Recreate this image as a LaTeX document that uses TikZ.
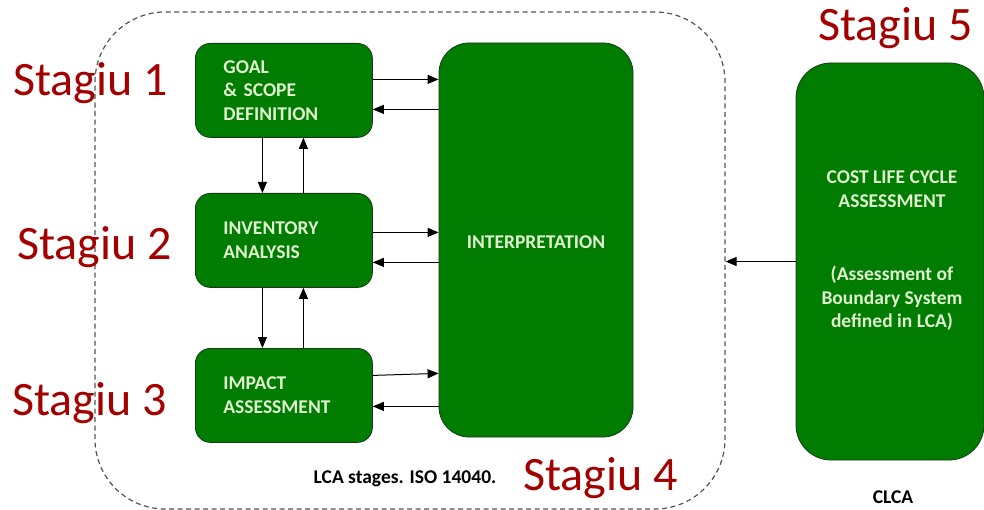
\documentclass[tikz,border=0pt]{standalone}
\usepackage{fontspec}
\setmainfont{Carlito}
\usetikzlibrary{arrows.meta,calc}
\definecolor{boxgreen}{RGB}{0,124,0}
\definecolor{boxedge}{RGB}{20,60,20}
\definecolor{boxtext}{RGB}{224,242,208}
\definecolor{stagered}{RGB}{163,0,0}
\definecolor{dashgray}{RGB}{85,85,85}
\tikzset{
  gbox/.style={draw=boxedge, line width=0.8pt, fill=boxgreen, text=boxtext,
    font=\fontsize{19.5}{23.5}\selectfont\bfseries},
  stagebox/.style={gbox, rounded corners=15pt, minimum height=94pt,
    inner xsep=28pt, text width=121pt, align=left, anchor=north west},
  arr/.style={draw=black, line width=1pt, -{Triangle[length=11pt,width=9pt]}},
  stagelabel/.style={text=stagered, font=\fontsize{48}{56}\selectfont, anchor=base west, inner sep=0pt},
  caption/.style={text=black, font=\fontsize{19.5}{23.5}\selectfont\bfseries, inner sep=0pt}
}
\begin{document}
\begin{tikzpicture}[x=1pt,y=-1pt]
\useasboundingbox (0,0) rectangle (984,510);
% boundary
\node[draw=dashgray, line width=1.2pt, dash pattern=on 5pt off 3.5pt, rounded corners=70pt,
  minimum width=630pt, minimum height=497pt, inner sep=0pt] (bound) at (410,260.5) {};
% stage boxes
\node[stagebox] (goal) at (195,43) {GOAL\\\& SCOPE\\DEFINITION};
\node[stagebox] (inv) at (195,193) {INVENTORY\\ANALYSIS};
\node[stagebox] (imp) at (195,348) {IMPACT\\ASSESSMENT};
\node[gbox, rounded corners=30pt, minimum width=194pt, minimum height=394pt, inner sep=0pt] (interp) at (536,240) {};
\node[text=boxtext, font=\fontsize{19.5}{23.5}\selectfont\bfseries, inner sep=0pt] (interptext) at (536,242) {INTERPRETATION};
\node[gbox, rounded corners=35pt, minimum width=188pt, minimum height=397pt, inner sep=0pt] (clca) at (890,261.5) {};
\node[text=boxtext, font=\fontsize{19.5}{23.5}\selectfont\bfseries, align=center, inner sep=0pt] (clcatext) at (892,251)
  {COST LIFE CYCLE\\ASSESSMENT\\[50pt](Assessment of\\Boundary System\\defined in LCA)};
% horizontal arrows
\draw[arr] ([yshift=11pt]goal.east) -- ([yshift=11pt]goal.east -| interp.west);
\draw[arr] ([yshift=-19pt]goal.east -| interp.west) -- ([yshift=-19pt]goal.east);
\draw[arr] ([yshift=8pt]inv.east) -- ([yshift=8pt]inv.east -| interp.west);
\draw[arr] ([yshift=-22pt]inv.east -| interp.west) -- ([yshift=-22pt]inv.east);
\draw[arr] ([yshift=20pt]imp.east) -- ([yshift=22pt]imp.east -| interp.west);
\draw[arr] ([yshift=-11pt]imp.east -| interp.west) -- ([yshift=-11pt]imp.east);
% vertical arrows
\draw[arr] ([xshift=-21.5pt]goal.south) -- ([xshift=-21.5pt]inv.north);
\draw[arr] ([xshift=19.5pt]inv.north) -- ([xshift=19.5pt]goal.south);
\draw[arr] ([xshift=-21.5pt]inv.south) -- ([xshift=-21.5pt]imp.north);
\draw[arr] ([xshift=19.5pt]imp.north) -- ([xshift=19.5pt]inv.south);
% clca arrow
\draw[arr] (clca.west) -- (clca.west -| bound.east);
% captions
\node[caption] (lcacap) at (405,479) {LCA stages. ISO 14040.};
\node[caption] (clcacap) at (893,497) {CLCA};
% stage labels
\node[stagelabel] (s1) at (13,96) {Stagiu 1};
\node[stagelabel] (s2) at (17,260) {Stagiu 2};
\node[stagelabel] (s3) at (12,415) {Stagiu 3};
\node[stagelabel] (s4) at (523,490) {Stagiu 4};
\node[stagelabel] (s5) at (818,41) {Stagiu 5};
\end{tikzpicture}
\end{document}
